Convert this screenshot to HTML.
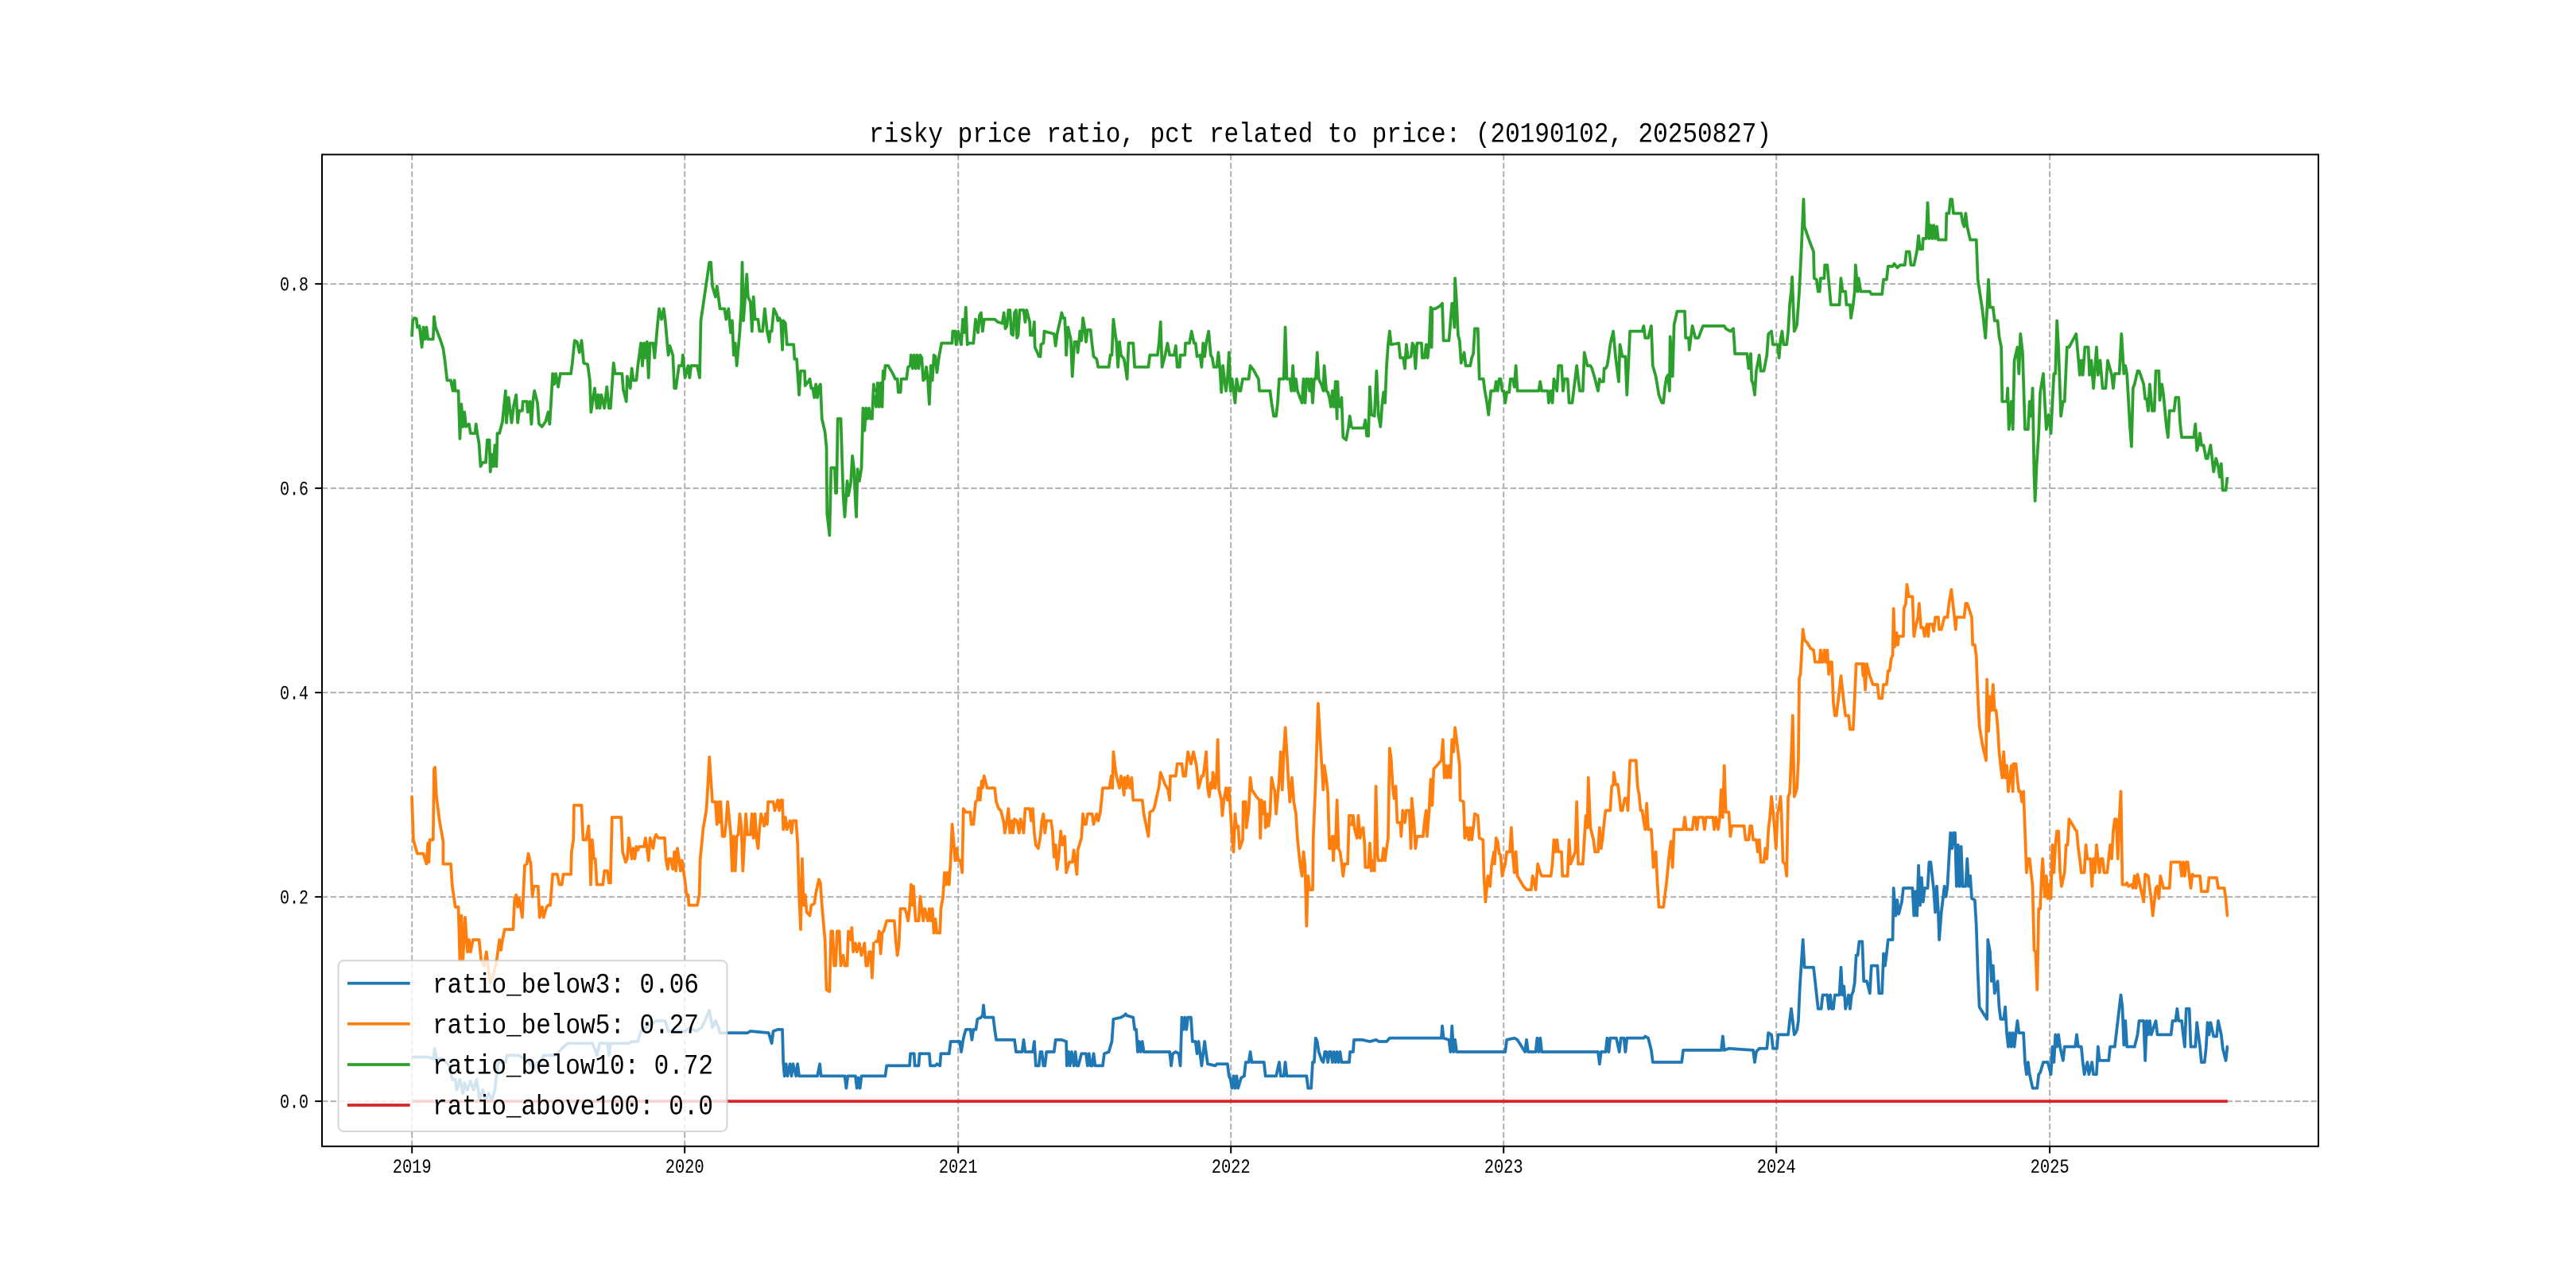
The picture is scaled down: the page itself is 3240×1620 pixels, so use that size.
<!DOCTYPE html>
<html>
<head>
<meta charset="utf-8">
<style>
html,body{margin:0;padding:0;background:#fff;}
svg{display:block;}
text{font-family:"Liberation Mono","Noto Sans CJK SC",monospace;fill:#000;}
.s{fill:none;stroke-linejoin:round;stroke-linecap:butt;stroke-width:3.75;vector-effect:non-scaling-stroke;}
</style>
</head>
<body>
<svg width="3240" height="1620" viewBox="0 0 3240 1620" xmlns="http://www.w3.org/2000/svg">
<rect x="0" y="0" width="3240" height="1620" fill="#fff"/>

<!-- grid -->
<g stroke="#b0b0b0" stroke-width="2" stroke-dasharray="7.4 3.2" fill="none">
<line x1="518.2" y1="1441.8" x2="518.2" y2="194.4"/>
<line x1="861.2" y1="1441.8" x2="861.2" y2="194.4"/>
<line x1="1205.2" y1="1441.8" x2="1205.2" y2="194.4"/>
<line x1="1548.2" y1="1441.8" x2="1548.2" y2="194.4"/>
<line x1="1891.2" y1="1441.8" x2="1891.2" y2="194.4"/>
<line x1="2234.2" y1="1441.8" x2="2234.2" y2="194.4"/>
<line x1="2578.1" y1="1441.8" x2="2578.1" y2="194.4"/>
<line x1="405" y1="1385.1" x2="2916" y2="1385.1"/>
<line x1="405" y1="1128.1" x2="2916" y2="1128.1"/>
<line x1="405" y1="871.1" x2="2916" y2="871.1"/>
<line x1="405" y1="614.1" x2="2916" y2="614.1"/>
<line x1="405" y1="357.1" x2="2916" y2="357.1"/>
</g>

<!-- blue -->
<g stroke="#1f77b4">
<polyline class="s" transform="translate(500,720) scale(0.38265,0.43384)" points="47,1405 100,1405 118,1410 122,1380 128,1410 150,1410 170,1430 180,1470 190,1470 195,1500 205,1470 215,1510 220,1480 230,1500 240,1475 250,1500 260,1470 270,1530 280,1500 290,1530 300,1510 310,1530 320,1500 330,1420 355,1420 360,1400 400,1400 430,1420 450,1440 460,1420 470,1420 480,1400 520,1400 540,1380 560,1365 640,1365 650,1385 655,1400 665,1365 690,1365 695,1400 700,1365 760,1365 770,1360 790,1360 800,1330 850,1300 880,1300 890,1330 945,1330 960,1320 980,1330 1000,1320 1025,1270 1035,1320 1045,1300 1055,1320 1060,1335 1150,1335 1160,1330 1220,1335 1225,1350 1230,1365 1235,1330 1250,1325 1265,1325 1268,1420 1272,1460 1277,1425 1282,1460 1290,1425 1295,1460 1300,1425 1310,1460 1315,1425 1320,1460 1380,1460 1388,1425 1392,1460 1470,1460 1475,1495 1480,1460 1505,1460 1510,1495 1515,1465 1520,1495 1525,1460 1568,1460"/>
<polyline class="s" transform="translate(1100,720) scale(0.38265,0.43384)" points="0,1460 35,1460 40,1430 115,1430 118,1395 130,1395 132,1430 145,1430 148,1395 180,1395 183,1430 200,1430 205,1425 215,1430 218,1395 245,1395 250,1360 280,1360 285,1390 290,1360 295,1340 300,1325 315,1325 320,1355 325,1325 333,1325 338,1295 350,1290 355,1285 358,1255 362,1290 390,1290 395,1325 400,1355 460,1355 465,1390 485,1390 490,1355 495,1390 520,1390 525,1360 530,1430 540,1430 545,1390 550,1390 555,1430 560,1430 565,1390 590,1390 595,1355 615,1355 630,1360 632,1430 638,1390 642,1430 648,1390 655,1430 660,1390 665,1430 670,1430 680,1395 695,1395 700,1430 705,1395 710,1430 715,1430 720,1395 725,1430 750,1430 755,1395 770,1390 780,1360 785,1295 810,1290 820,1285 825,1280 830,1285 850,1290 855,1325 860,1325 865,1390 870,1360 875,1390 880,1360 885,1390 970,1390 975,1430 980,1395 990,1390 1000,1395 1005,1430 1010,1290 1015,1325 1020,1290 1025,1325 1030,1290 1040,1290 1045,1360 1055,1360 1060,1395 1065,1360 1075,1430 1080,1395 1085,1360 1090,1395 1095,1425 1120,1430 1125,1425 1160,1425 1165,1460 1170,1470 1175,1495 1180,1460 1185,1495 1190,1460 1195,1495 1205,1465 1215,1460 1220,1420 1230,1420 1235,1390 1240,1420 1280,1420 1285,1460 1320,1460 1330,1420 1335,1460 1345,1460 1350,1420 1355,1460 1420,1460 1425,1495 1435,1495 1440,1420 1445,1420 1450,1350 1455,1360 1460,1390 1470,1415 1475,1420 1480,1390 1485,1390 1490,1420 1495,1390 1500,1390 1505,1420 1510,1390 1515,1420 1520,1390 1525,1420 1530,1390 1535,1420 1560,1420 1563,1390 1568,1390"/>
<polyline class="s" transform="translate(1700,720) scale(0.38265,0.43384)" points="0,1390 5,1390 8,1355 35,1355 60,1360 80,1355 90,1360 115,1360 125,1350 295,1350 298,1315 302,1350 320,1355 325,1390 330,1315 335,1390 340,1355 345,1390 505,1390 510,1355 535,1350 545,1355 570,1390 575,1355 580,1390 605,1390 610,1350 615,1390 620,1350 625,1390 810,1390 815,1425 820,1390 835,1390 840,1350 845,1390 850,1350 870,1350 875,1370 880,1390 885,1350 895,1350 900,1390 905,1350 960,1350 965,1345 975,1350 985,1385 990,1420 1085,1420 1090,1385 1215,1385 1220,1345 1225,1385 1240,1380 1320,1385 1325,1420 1330,1390 1335,1385 1340,1380 1365,1380 1370,1335 1380,1340 1385,1380 1398,1380 1402,1340 1435,1340 1440,1300 1445,1265 1450,1300 1455,1340 1463,1330"/>
<polyline class="s" transform="translate(2260,720) scale(0.38265,0.43384)" points="0,1330 5,1300 10,1200 20,1065 25,1145 55,1145 60,1185 65,1225 70,1265 80,1265 85,1225 100,1225 105,1265 110,1225 115,1265 120,1265 125,1225 140,1225 145,1145 150,1225 155,1200 160,1265 165,1245 170,1225 175,1265 180,1225 185,1215 190,1190 195,1110 200,1110 205,1070 215,1070 220,1185 230,1185 240,1220 245,1140 265,1140 270,1220 280,1220 285,1105 290,1140 295,1105 300,1065 315,1065 318,915 325,995 330,950 335,990 345,955 350,915 380,915 385,995 390,925 395,995 400,850 405,965 410,885 415,955 420,915 430,915 435,840 440,840 450,920 455,985 460,910 465,985 468,1065 475,985 485,910 490,940 495,910 500,830 505,755 510,800 515,755 520,755 525,910 530,790 535,910 540,795 545,910 555,910 560,830 565,910 570,880 575,945 585,950 590,1025 595,1160 600,1260 625,1295 628,1065 635,1100 640,1185 645,1140 650,1220 660,1185 665,1260 670,1295 680,1295 685,1260 690,1335 695,1375 700,1335 705,1375 710,1335 715,1375 720,1335 725,1300 730,1335 745,1335 750,1420 755,1455 760,1420 765,1455 775,1495 790,1495 795,1455 800,1450 810,1420 825,1420 835,1455 840,1375 845,1420 850,1340 855,1375 860,1340 865,1375 875,1415 880,1375 915,1375 920,1340 925,1375 935,1375 940,1420 945,1455 955,1420 960,1455 970,1420 975,1455 985,1455 990,1375 995,1415 1025,1415 1030,1375 1045,1375 1055,1300 1065,1225 1070,1260 1075,1370 1080,1300 1085,1375 1110,1375 1120,1340 1125,1300 1140,1300 1145,1415 1150,1300 1155,1340 1160,1300 1165,1340 1180,1300 1185,1340 1230,1340 1235,1300 1245,1300 1250,1265 1255,1300 1265,1300 1270,1340 1275,1375 1280,1265 1290,1265 1295,1375 1310,1375 1315,1305 1320,1340 1325,1375 1330,1420 1340,1420 1345,1380 1350,1305 1355,1340 1360,1305 1370,1345 1380,1345 1385,1300 1395,1340 1400,1380 1410,1415 1415,1375 1418,1375"/>
</g>

<!-- orange -->
<g stroke="#ff7f0e">
<polyline class="s" transform="translate(500,720) scale(0.38265,0.43384)" points="47,648 52,775 60,800 65,815 85,815 90,830 95,845 100,785 103,840 106,775 117,775 120,570 123,565 128,650 138,720 150,780 150,845 175,845 180,910 185,940 190,970 200,970 205,1125 210,995 215,1125 222,1000 230,1100 235,1065 240,1100 248,1065 268,1065 275,1125 285,1140 292,1100 300,1160 305,1190 315,1165 325,1130 335,1065 340,1095 345,1065 352,1035 380,1035 385,945 390,935 395,970 400,945 410,1000 418,850 425,845 430,815 438,845 443,940 448,910 462,910 467,1000 475,970 480,1000 490,970 495,965 502,965 510,875 525,875 532,905 540,905 545,875 570,875 572,810 578,775 580,675 605,675 610,775 620,775 628,735 632,800 635,905 640,775 645,830 650,830 655,905 675,905 680,865 690,865 695,900 700,900 705,710 735,710 740,810 750,840 755,830 760,770 765,800 770,830 775,800 780,830 785,795 790,805 795,795 810,795 815,770 820,800 825,835 830,770 840,800 845,770 850,760 858,770 878,770 882,830 888,860 892,830 898,830 905,860 910,810 915,865 920,800 925,830 930,865 935,835 945,895 950,935 955,935 958,965 985,965 992,935 995,830 1005,740 1015,690 1020,620 1025,535 1035,665 1045,665 1050,730 1055,665 1060,725 1062,665 1068,765 1075,765 1080,725 1085,665 1095,755 1100,865 1105,765 1110,865 1115,765 1120,760 1125,700 1130,735 1135,865 1145,700 1150,760 1160,760 1165,700 1170,770 1175,700 1180,770 1185,800 1190,740 1195,700 1205,735 1210,700 1215,730 1218,665 1235,665 1240,690 1245,675 1250,660 1255,690 1260,660 1265,660 1268,745 1275,710 1280,745 1290,720 1295,755 1300,720 1310,720 1315,785 1320,935 1325,1035 1330,830 1335,965 1340,935 1345,985 1355,995 1360,965 1370,960 1375,930 1385,890 1390,900 1395,965 1405,1065 1410,1210 1420,1215 1425,1040 1430,1040 1435,1140 1440,1140 1445,1040 1452,1040 1457,1140 1465,1110 1470,1140 1478,1140 1482,1040 1490,1065 1493,1030 1498,1100 1505,1075 1510,1100 1518,1075 1525,1110 1535,1075 1540,1140 1545,1140 1550,1100 1555,1100 1560,1175 1565,1075 1568,1075"/>
<polyline class="s" transform="translate(1100,720) scale(0.38265,0.43384)" points="0,1070 10,1070 15,1040 20,1105 25,1045 30,1040 40,1010 65,1010 70,1070 75,1110 80,1080 85,975 100,975 105,990 110,1010 115,975 120,905 125,965 128,910 135,1010 145,1010 150,940 155,975 160,1010 165,975 175,1010 180,975 185,1010 190,975 195,1045 200,1005 205,1045 215,1045 218,975 225,940 230,870 235,905 240,870 245,905 250,835 255,730 260,780 265,835 270,800 275,835 282,835 288,870 292,685 300,695 315,695 318,730 325,730 332,665 338,660 342,625 347,660 352,605 355,625 360,590 370,625 395,625 400,665 408,685 415,690 425,725 428,755 435,720 440,685 445,755 450,720 455,755 460,715 468,720 475,755 480,715 490,755 495,685 510,685 515,720 520,685 525,755 530,790 538,800 545,765 550,720 555,700 560,755 565,720 580,720 585,750 590,825 595,790 600,860 605,825 612,750 618,790 625,765 630,870 640,840 650,840 655,805 660,840 665,875 668,805 680,770 685,700 690,730 695,730 700,700 715,700 720,730 730,700 735,720 742,695 750,625 772,625 778,590 782,625 785,520 790,560 795,590 805,625 810,590 815,610 820,645 822,595 828,625 832,590 840,625 845,595 850,660 880,660 885,700 892,730 900,765 905,695 915,690 920,680 925,660 935,620 940,580 955,615 965,630 970,660 972,590 990,590 995,555 1010,555 1015,590 1022,590 1030,520 1040,555 1048,520 1058,560 1065,625 1070,610 1075,590 1080,590 1085,560 1090,520 1095,625 1100,650 1105,610 1110,625 1112,580 1120,625 1125,575 1128,485 1132,630 1140,660 1143,705 1148,660 1155,625 1160,660 1165,625 1175,765 1180,810 1185,700 1190,740 1195,735 1200,800 1210,775 1212,665 1220,665 1222,740 1230,690 1235,595 1240,630 1255,650 1265,660 1268,770 1272,660 1278,700 1282,665 1285,740 1290,700 1295,735 1300,700 1305,595 1312,625 1315,630 1320,700 1325,650 1330,600 1335,520 1340,630 1345,520 1350,450 1355,520 1360,600 1365,665 1372,595 1378,665 1385,700 1390,770 1395,815 1400,855 1405,880 1410,810 1415,850 1420,1025 1425,880 1430,920 1440,920 1442,770 1450,600 1458,380 1465,490 1470,560 1475,630 1478,560 1485,600 1490,640 1495,800 1500,800 1505,765 1508,835 1512,765 1515,800 1520,660 1525,800 1530,810 1535,840 1540,880 1545,845 1555,845 1560,705 1568,705"/>
<polyline class="s" transform="translate(1700,720) scale(0.38265,0.43384)" points="0,735 5,705 10,745 18,770 22,705 28,770 33,745 38,740 43,790 45,855 55,855 60,785 65,865 70,835 75,865 80,620 85,820 88,835 100,835 105,800 110,835 115,800 120,770 125,510 130,540 135,620 140,655 145,620 150,725 160,725 163,765 168,690 175,725 180,690 190,690 195,800 198,655 205,725 210,800 215,765 235,765 240,720 245,690 248,765 255,690 260,600 265,675 270,570 295,545 300,485 305,595 310,560 315,595 320,560 325,595 330,485 335,520 340,450 345,485 350,520 355,560 357,660 368,665 372,770 380,740 385,775 390,740 395,775 400,740 405,700 415,705 420,770 432,775 435,880 440,955 448,880 455,910 460,850 468,810 470,845 475,770 480,780 485,815 490,820 495,880 500,860 505,845 510,810 520,810 525,740 530,820 535,870 540,810 545,880 555,895 565,910 575,920 590,920 595,880 600,895 605,920 612,845 620,870 625,880 655,880 660,845 665,775 670,810 675,775 680,810 690,810 693,880 710,880 715,775 720,845 735,810 740,665 745,845 760,845 765,775 770,705 775,740 778,595 785,740 795,775 800,810 810,810 815,740 820,800 825,770 830,725 835,690 850,690 855,620 860,615 862,580 868,615 875,615 880,650 885,690 890,690 898,655 905,655 908,690 915,545 935,545 940,620 945,645 950,690 955,690 960,720 965,745 970,670 975,745 985,745 988,785 992,855 1000,810 1005,900 1010,970 1025,970 1030,935 1035,900 1040,855 1045,810 1050,780 1055,855 1060,745 1090,745 1095,710 1100,745 1120,745 1125,710 1130,710 1135,745 1140,710 1155,710 1160,745 1165,710 1188,710 1192,745 1198,710 1205,745 1210,710 1215,630 1220,710 1225,560 1230,695 1240,695 1245,765 1250,735 1290,735 1295,775 1305,775 1310,735 1315,735 1320,775 1330,775 1335,810 1340,775 1345,840 1355,840 1360,800 1365,830 1370,745 1375,710 1380,650 1385,690 1390,740 1395,800 1400,700 1405,680 1410,650 1413,700 1418,840 1425,845 1430,880 1435,650 1440,640 1445,540 1450,415 1455,650 1463,630"/>
<polyline class="s" transform="translate(2260,720) scale(0.38265,0.43384)" points="0,630 5,545 8,305 12,295 20,165 25,195 35,205 45,220 55,225 60,260 75,260 78,225 80,260 85,260 90,225 95,260 100,225 105,295 110,260 115,260 120,375 125,415 130,415 140,340 145,300 150,340 155,380 160,415 170,415 175,455 185,455 190,365 195,265 215,265 218,300 220,265 225,340 230,265 240,300 250,325 265,325 270,365 280,365 285,325 295,325 300,285 305,285 310,250 315,240 318,105 322,215 328,175 332,210 335,185 350,185 352,105 358,90 362,35 368,70 380,70 385,185 390,160 398,130 402,90 408,160 415,160 420,185 425,160 428,150 432,185 435,150 445,150 450,170 455,130 465,130 468,165 475,165 485,130 495,130 500,90 508,50 513,90 518,130 522,165 525,130 550,130 555,90 560,90 575,130 578,210 585,210 590,245 595,360 600,445 610,500 622,545 625,310 630,460 635,360 640,400 645,325 650,400 655,400 660,445 665,520 670,560 675,595 680,520 685,595 690,560 695,635 700,595 705,560 710,635 712,555 720,555 725,600 730,635 735,635 740,665 745,635 750,750 755,870 760,830 765,830 770,870 775,910 780,1095 785,1100 790,1210 795,975 800,975 805,870 808,830 815,940 820,880 825,945 830,905 835,945 840,790 845,870 850,790 855,750 860,750 865,865 870,910 880,870 885,790 890,790 895,715 905,730 915,745 920,750 925,800 930,830 935,870 945,870 950,790 955,830 965,830 970,910 975,830 980,870 985,790 990,830 995,870 1000,830 1005,830 1010,870 1020,870 1025,830 1030,790 1035,830 1040,750 1045,715 1050,715 1055,830 1060,715 1065,635 1070,905 1080,905 1085,900 1090,910 1100,905 1105,915 1110,880 1115,915 1120,875 1130,915 1140,955 1145,875 1155,880 1160,915 1165,950 1170,995 1175,955 1180,915 1185,910 1190,945 1195,880 1205,915 1225,915 1230,840 1260,840 1265,880 1270,840 1275,880 1280,840 1285,840 1290,880 1295,915 1300,875 1305,880 1325,880 1330,925 1350,925 1355,885 1380,885 1385,915 1405,915 1410,945 1415,995 1418,995"/>
</g>

<!-- green -->
<g stroke="#2ca02c">
<polyline class="s" transform="translate(500,230) scale(0.38265,0.33333)" points="47,580 50,520 55,510 62,512 65,545 72,540 80,620 85,545 90,590 95,545 100,590 117,590 120,505 125,545 140,590 150,625 155,665 163,745 175,745 182,785 187,745 190,785 200,785 205,965 210,835 215,920 220,865 225,920 235,910 240,945 255,945 258,910 262,945 268,985 273,1070 280,1055 290,1055 295,970 302,970 305,1090 310,1025 315,1070 320,990 325,1070 328,945 335,945 345,900 355,785 358,905 365,810 375,905 382,840 390,800 395,905 400,860 410,860 412,825 425,825 428,865 435,825 440,910 445,825 450,785 460,830 465,910 475,920 487,900 495,865 500,910 505,820 510,720 515,760 520,720 528,770 535,720 570,720 575,675 582,595 590,600 598,640 605,595 612,680 625,685 632,745 636,865 648,775 655,850 660,800 665,850 670,800 680,850 688,770 695,850 700,850 710,680 715,720 738,720 742,780 752,825 755,730 765,775 770,700 775,745 785,745 790,690 800,605 805,690 810,605 815,660 820,600 825,735 830,605 840,605 845,660 855,530 860,475 868,515 875,475 880,520 890,650 895,615 905,650 910,775 915,775 925,690 935,690 938,650 945,735 955,690 960,735 965,690 985,690 993,735 997,520 1025,300 1030,300 1035,390 1045,430 1050,390 1060,475 1075,475 1080,515 1088,475 1095,565 1100,520 1105,650 1110,605 1115,690 1125,560 1130,470 1133,300 1137,520 1148,345 1152,430 1160,450 1165,560 1170,430 1175,515 1185,515 1190,560 1200,560 1207,475 1215,560 1222,600 1225,560 1230,560 1237,475 1247,500 1250,520 1255,510 1260,520 1265,630 1268,520 1275,530 1280,610 1302,610 1305,665 1312,665 1320,800 1325,710 1338,710 1340,765 1350,750 1355,740 1360,775 1365,775 1370,810 1375,760 1380,810 1385,770 1390,760 1395,890 1405,940 1410,1000 1412,1250 1420,1330 1425,1075 1437,1075 1440,1170 1443,1170 1447,890 1457,890 1460,1000 1465,1180 1470,1260 1478,1125 1482,1180 1490,1130 1495,1030 1500,1075 1505,1200 1508,1260 1512,1080 1518,1125 1525,1075 1530,850 1535,935 1540,850 1545,890 1550,850 1555,890 1560,890 1565,760 1568,790"/>
<polyline class="s" transform="translate(1100,230) scale(0.38265,0.33333)" points="0,800 5,845 10,755 15,845 20,755 25,845 28,710 32,740 35,690 45,690 60,720 68,740 75,740 78,790 85,790 88,740 105,740 110,695 117,690 120,650 125,700 130,650 135,700 140,650 145,700 150,650 155,660 160,745 165,740 170,695 175,740 180,835 185,690 190,745 195,650 200,655 205,715 212,655 220,605 255,605 257,560 265,560 268,610 275,560 285,610 290,515 295,565 300,470 305,610 310,605 325,605 332,515 340,565 345,500 350,490 355,560 360,515 395,515 405,525 420,530 425,490 430,550 435,540 440,480 445,480 450,570 455,575 460,490 465,480 468,585 472,575 477,480 490,480 495,525 500,480 510,525 512,575 520,575 525,525 527,620 535,640 540,655 545,655 547,610 555,605 558,560 590,570 595,615 600,570 610,520 615,490 620,510 625,510 628,575 630,650 636,545 645,590 650,730 657,600 665,600 668,640 672,600 675,560 680,595 685,510 690,545 695,600 700,555 710,555 715,610 720,655 730,665 735,695 770,695 775,650 780,650 785,515 790,560 795,600 800,695 805,600 810,650 820,665 825,700 830,740 835,605 850,605 855,695 900,695 905,650 930,650 935,605 940,525 945,695 955,650 963,605 970,650 985,650 990,615 995,695 1003,695 1005,650 1020,650 1022,605 1035,605 1042,560 1050,605 1055,605 1060,655 1070,650 1075,695 1080,605 1085,655 1090,605 1098,560 1105,650 1110,660 1115,695 1125,695 1130,640 1135,700 1140,790 1145,690 1150,740 1155,785 1160,740 1165,640 1170,785 1175,740 1185,830 1190,740 1198,785 1203,785 1210,740 1230,740 1235,690 1245,705 1262,740 1265,785 1300,785 1305,830 1312,880 1320,880 1325,830 1330,740 1345,740 1350,545 1355,740 1365,740 1370,785 1375,690 1380,785 1385,740 1390,785 1395,800 1405,830 1410,740 1415,830 1420,740 1425,740 1430,785 1435,740 1440,830 1445,740 1450,740 1455,640 1460,740 1470,765 1475,785 1478,690 1485,785 1490,790 1495,810 1500,845 1505,785 1510,845 1515,750 1520,890 1522,750 1525,840 1530,845 1535,810 1540,960 1550,970 1558,920 1562,880 1568,925"/>
<polyline class="s" transform="translate(1700,230) scale(0.38265,0.33333)" points="0,925 40,925 45,895 50,955 55,955 60,770 65,875 75,880 82,710 88,875 95,920 100,840 105,790 110,830 115,690 120,610 125,560 130,610 155,605 160,660 170,660 175,700 180,610 185,660 195,655 200,605 205,615 210,700 215,605 230,605 232,660 240,660 245,610 250,660 255,605 260,470 263,620 265,475 275,475 290,465 298,455 302,595 320,595 330,455 333,455 338,545 340,360 345,450 350,575 355,595 360,680 370,640 375,690 390,690 395,660 400,645 405,550 415,550 420,740 433,740 438,785 445,830 450,875 458,785 470,785 475,750 480,785 485,740 490,740 495,785 500,785 505,830 510,790 518,790 522,740 530,740 535,770 540,690 545,785 615,785 620,750 625,785 645,785 648,830 655,785 660,830 665,740 675,785 680,690 690,690 695,785 700,740 710,740 715,830 725,830 730,785 740,690 745,740 750,785 760,785 765,640 775,690 785,690 790,700 800,740 810,785 815,740 820,750 828,750 830,700 835,700 840,690 845,655 850,610 860,560 868,660 878,750 882,610 890,655 900,655 905,800 915,560 955,560 960,540 965,585 975,585 985,540 990,690 1000,730 1010,800 1020,830 1025,830 1030,770 1035,735 1040,725 1045,785 1047,580 1055,730 1060,535 1070,485 1095,485 1098,585 1108,585 1110,630 1120,540 1130,585 1140,585 1155,540 1225,540 1230,550 1245,560 1255,550 1260,645 1300,645 1305,700 1312,645 1315,745 1320,760 1325,800 1330,710 1340,650 1345,710 1355,710 1365,650 1370,570 1380,560 1385,610 1400,610 1405,660 1410,590 1415,560 1420,610 1430,610 1435,560 1440,460 1445,410 1448,355 1455,560 1463,540"/>
<polyline class="s" transform="translate(2260,230) scale(0.38265,0.33333)" points="0,540 8,410 15,250 22,62 25,165 40,215 55,260 57,360 65,365 70,410 75,410 78,360 90,360 92,310 100,310 108,410 112,460 140,460 145,360 150,410 160,410 163,460 175,460 178,510 185,460 190,410 193,310 200,410 203,360 210,410 240,410 245,420 280,420 285,365 295,365 300,315 315,315 320,305 330,320 340,310 355,310 360,260 370,260 375,310 385,310 395,255 400,200 405,250 413,250 415,210 425,210 430,75 435,210 440,160 445,210 450,160 455,210 460,165 465,215 490,215 492,115 500,115 505,62 510,62 515,115 540,115 545,150 550,165 555,115 560,165 570,215 590,215 595,365 610,480 620,585 625,480 630,365 635,470 645,470 650,520 660,520 665,580 672,620 675,825 690,825 693,775 697,930 705,825 710,930 715,670 725,620 730,720 735,570 742,640 750,930 760,930 765,825 770,880 775,775 780,1100 783,1200 788,1070 795,945 800,790 810,720 820,930 828,875 835,945 840,830 845,720 850,720 855,520 860,620 868,880 875,825 880,825 888,620 895,620 918,570 930,725 935,670 940,725 947,620 958,620 962,725 968,670 975,775 985,620 990,725 997,670 1005,775 1015,775 1022,670 1035,725 1040,775 1045,720 1060,720 1067,570 1075,720 1080,690 1085,720 1095,920 1100,995 1105,775 1110,760 1120,710 1125,710 1130,725 1140,760 1145,815 1150,815 1155,860 1160,760 1168,860 1175,860 1180,710 1190,710 1193,820 1200,760 1205,800 1210,860 1215,920 1220,960 1225,860 1240,860 1245,810 1255,810 1260,910 1265,960 1305,960 1310,910 1315,1010 1320,990 1325,945 1330,990 1337,990 1345,1040 1350,1040 1360,990 1365,1040 1370,1090 1378,1040 1385,1070 1390,1110 1395,1060 1400,1160 1410,1160 1415,1110"/>
</g>

<!-- red -->
<line x1="519.1" y1="1385.1" x2="2801.9" y2="1385.1" stroke="#d62728" stroke-width="3.75"/>

<!-- spines -->
<rect x="405" y="194.4" width="2511" height="1247.4" fill="none" stroke="#000" stroke-width="2"/>

<!-- ticks -->
<g stroke="#000" stroke-width="2">
<line x1="396.2" y1="1385.1" x2="405" y2="1385.1"/>
<line x1="396.2" y1="1128.1" x2="405" y2="1128.1"/>
<line x1="396.2" y1="871.1" x2="405" y2="871.1"/>
<line x1="396.2" y1="614.1" x2="405" y2="614.1"/>
<line x1="396.2" y1="357.1" x2="405" y2="357.1"/>
<line x1="518.2" y1="1441.8" x2="518.2" y2="1450.6"/>
<line x1="861.2" y1="1441.8" x2="861.2" y2="1450.6"/>
<line x1="1205.2" y1="1441.8" x2="1205.2" y2="1450.6"/>
<line x1="1548.2" y1="1441.8" x2="1548.2" y2="1450.6"/>
<line x1="1891.2" y1="1441.8" x2="1891.2" y2="1450.6"/>
<line x1="2234.2" y1="1441.8" x2="2234.2" y2="1450.6"/>
<line x1="2578.1" y1="1441.8" x2="2578.1" y2="1450.6"/>
</g>

<!-- tick labels -->
<g font-size="25">
<text x="388" y="1393.3" text-anchor="end" textLength="36" lengthAdjust="spacingAndGlyphs">0.0</text>
<text x="388" y="1136.3" text-anchor="end" textLength="36" lengthAdjust="spacingAndGlyphs">0.2</text>
<text x="388" y="879.3" text-anchor="end" textLength="36" lengthAdjust="spacingAndGlyphs">0.4</text>
<text x="388" y="622.3" text-anchor="end" textLength="36" lengthAdjust="spacingAndGlyphs">0.6</text>
<text x="388" y="365.3" text-anchor="end" textLength="36" lengthAdjust="spacingAndGlyphs">0.8</text>
<text x="518.2" y="1475" text-anchor="middle" textLength="49" lengthAdjust="spacingAndGlyphs">2019</text>
<text x="861.2" y="1475" text-anchor="middle" textLength="49" lengthAdjust="spacingAndGlyphs">2020</text>
<text x="1205.2" y="1475" text-anchor="middle" textLength="49" lengthAdjust="spacingAndGlyphs">2021</text>
<text x="1548.2" y="1475" text-anchor="middle" textLength="49" lengthAdjust="spacingAndGlyphs">2022</text>
<text x="1891.2" y="1475" text-anchor="middle" textLength="49" lengthAdjust="spacingAndGlyphs">2023</text>
<text x="2234.2" y="1475" text-anchor="middle" textLength="49" lengthAdjust="spacingAndGlyphs">2024</text>
<text x="2578.1" y="1475" text-anchor="middle" textLength="49" lengthAdjust="spacingAndGlyphs">2025</text>
</g>

<!-- title -->
<text x="1660.5" y="178.3" font-size="35" text-anchor="middle" textLength="1135" lengthAdjust="spacingAndGlyphs">risky price ratio, pct related to price: (20190102, 20250827)</text>

<!-- legend -->
<rect x="425.5" y="1208.3" width="489" height="214.7" rx="7" ry="7" fill="#fff" fill-opacity="0.8" stroke="#cccccc" stroke-opacity="0.8" stroke-width="2"/>
<line x1="437" y1="1236.7" x2="515.7" y2="1236.7" stroke="#1f77b4" stroke-width="3.75"/>
<line x1="437" y1="1287.7" x2="515.7" y2="1287.7" stroke="#ff7f0e" stroke-width="3.75"/>
<line x1="437" y1="1339" x2="515.7" y2="1339" stroke="#2ca02c" stroke-width="3.75"/>
<line x1="437" y1="1390" x2="515.7" y2="1390" stroke="#d62728" stroke-width="3.75"/>
<g font-size="35">
<text x="544" y="1248.3" textLength="335" lengthAdjust="spacingAndGlyphs">ratio_below3: 0.06</text>
<text x="544" y="1299.3" textLength="335" lengthAdjust="spacingAndGlyphs">ratio_below5: 0.27</text>
<text x="544" y="1350.6" textLength="353" lengthAdjust="spacingAndGlyphs">ratio_below10: 0.72</text>
<text x="544" y="1401.6" textLength="353" lengthAdjust="spacingAndGlyphs">ratio_above100: 0.0</text>
</g>
</svg>
</body>
</html>
